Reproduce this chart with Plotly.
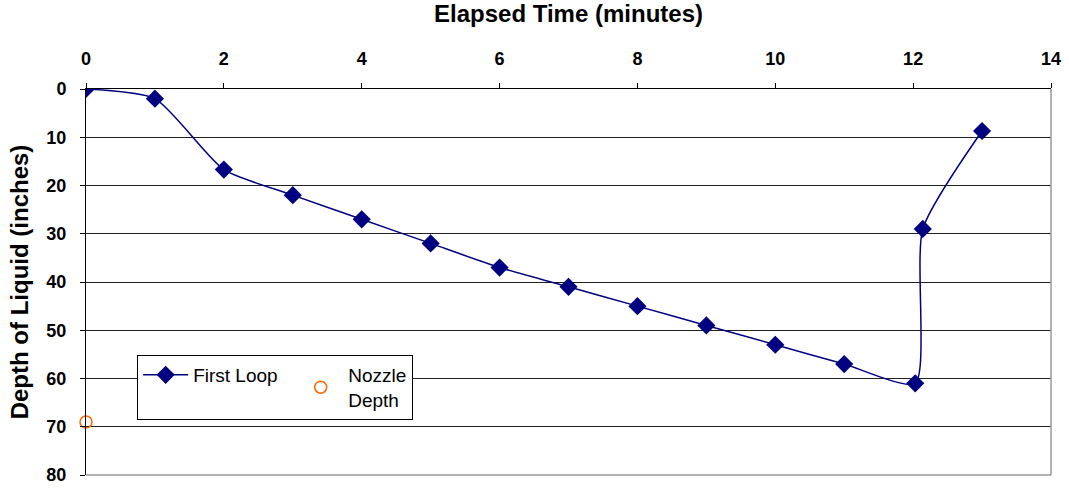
import plotly.graph_objects as go

# Elapsed time (minutes) and depth of liquid (inches) for the first loop
first_loop_time = [0, 1, 2, 3, 4, 5, 6, 7, 8, 9, 10, 11, 12.03, 12.14, 13]
first_loop_depth = [0, 2, 16.7, 22, 27, 32, 37, 41, 45, 49, 53, 57, 61, 29, 8.7]

# Nozzle depth reference point
nozzle_time = [0]
nozzle_depth = [69]

x_ticks = [0, 2, 4, 6, 8, 10, 12, 14]
y_ticks = [0, 10, 20, 30, 40, 50, 60, 70, 80]

NAVY = "#000080"
ORANGE = "#FF6600"
FONT = "Liberation Sans, Arial, sans-serif"
PAD = "\u00a0" * 2

fig = go.Figure()
fig.add_trace(go.Scatter(
    x=first_loop_time, y=first_loop_depth, name="First Loop" + PAD,
    mode="lines+markers",
    line=dict(color=NAVY, width=1.5, shape="spline", smoothing=0.6),
    marker=dict(symbol="diamond", size=14, color=NAVY),
))
fig.add_trace(go.Scatter(
    x=nozzle_time, y=nozzle_depth, name="Nozzle<br>Depth",
    mode="markers",
    marker=dict(symbol="circle-open", size=12, color=ORANGE, line=dict(width=1.5, color=ORANGE)),
    cliponaxis=False,
))

fig.update_layout(
    width=1069, height=488,
    margin=dict(l=86, r=18, t=89, b=13),
    paper_bgcolor="white", plot_bgcolor="white",
    font=dict(family=FONT, color="black"),
    showlegend=True,
    legend=dict(
        orientation="h", x=0.053, y=0.311, xanchor="left", yanchor="top",
        bgcolor="white", bordercolor="black", borderwidth=1,
        font=dict(family=FONT, size=19, color="black"),
        itemwidth=45, tracegroupgap=0,
    ),
    xaxis=dict(
        side="top", range=[0, 14], tickvals=x_ticks,
        showgrid=False, zeroline=False, automargin=False,
        showline=True, linecolor="black", linewidth=1,
        ticks="outside", ticklen=5, tickcolor="black", ticklabelstandoff=11,
        tickfont=dict(family=FONT, size=18, color="black", weight="bold"),
        title=dict(text="<b>Elapsed Time (minutes)</b>", font=dict(family=FONT, size=24), standoff=28),
    ),
    yaxis=dict(
        range=[80, 0], tickvals=y_ticks,
        showgrid=True, gridcolor="#222222", gridwidth=1,
        zeroline=False, automargin=False,
        showline=True, linecolor="black", linewidth=1,
        ticks="outside", ticklen=5, tickcolor="black", ticklabelstandoff=10,
        tickfont=dict(family=FONT, size=18, color="black", weight="bold"),
        title=dict(text="<b>Depth of Liquid (inches)</b>", font=dict(family=FONT, size=24), standoff=10),
    ),
)

# Right and bottom border of the plotting area
fig.add_shape(type="line", xref="paper", yref="paper", x0=1, x1=1, y0=0, y1=1,
              line=dict(color="#999999", width=1.5))
fig.add_shape(type="line", xref="paper", yref="paper", x0=0, x1=1, y0=0, y1=0,
              line=dict(color="#999999", width=1.5))

fig.write_html("out.html")
